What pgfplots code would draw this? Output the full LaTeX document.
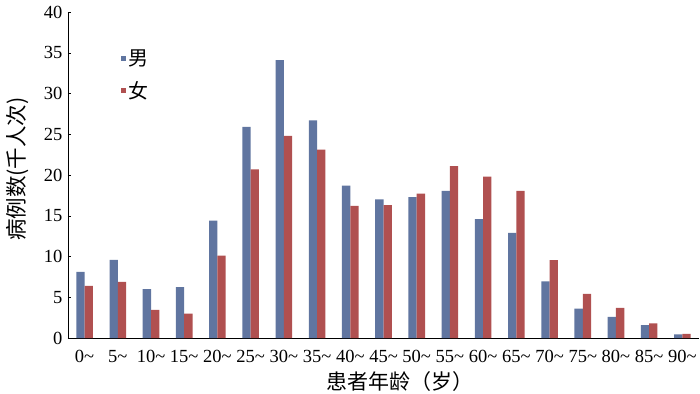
\documentclass[border=0pt]{standalone}
\usepackage{pgfplots}
\usepackage{pgfplotstable}
\pgfplotsset{compat=1.18}
\usepackage{fontspec}
\setmainfont{Liberation Serif}
\newfontfamily\cjk{Noto Sans CJK SC}
\definecolor{male}{HTML}{6075A0}
\definecolor{female}{HTML}{B05050}
\pgfplotstableread{
x male female
0 8.1 6.4
1 9.6 6.9
2 6.0 3.45
3 6.25 3.0
4 14.4 10.1
5 25.9 20.7
6 34.1 24.8
7 26.7 23.1
8 18.7 16.2
9 17.0 16.3
10 17.3 17.7
11 18.05 21.1
12 14.6 19.8
13 12.9 18.05
14 6.95 9.55
15 3.6 5.4
16 2.6 3.7
17 1.57 1.8
18 0.45 0.5
}\datatable
\begin{document}
\begin{tikzpicture}[x=1pt,y=1pt]
\begin{axis}[
  at={(0,0)}, anchor=south west,
  scale only axis, width=631pt, height=326pt,
  ymin=0, ymax=40, ytick={0,5,...,40},
  xmin=-0.5, xmax=18.5,
  xtick={0,...,18},
  xticklabels={0\textasciitilde,5\textasciitilde,10\textasciitilde,15\textasciitilde,20\textasciitilde,25\textasciitilde,30\textasciitilde,35\textasciitilde,40\textasciitilde,45\textasciitilde,50\textasciitilde,55\textasciitilde,60\textasciitilde,65\textasciitilde,70\textasciitilde,75\textasciitilde,80\textasciitilde,85\textasciitilde,90\textasciitilde},
  minor xtick={-0.5,0.5,...,18.5},
  axis x line*=bottom, axis y line*=left,
  tick align=inside,
  major tick length=3pt, minor tick length=3pt,
  xtick style={draw=none},
  minor tick style={draw=black, thin},
  ytick style={black, thin},
  axis line style={black, semithick},
  /pgf/number format/assume math mode=true,
  tick label style={font=\fontsize{18.5}{18.5}\selectfont},
  xticklabel style={yshift=-6pt},
  yticklabel style={xshift=-2pt},
  ybar=0pt, bar width=8.3pt,
  ylabel={\cjk 病例数(千人次)},
  ylabel style={font=\fontsize{21.5}{21.5}\selectfont, yshift=8pt, xshift=6pt},
  xlabel={\cjk 患者年龄（岁）},
  xlabel style={font=\fontsize{21}{21}\selectfont, xshift=16pt, yshift=-2pt},
  legend style={at={(0.084,0.89)}, anchor=north west, draw=none, fill=none,
    font=\cjk\fontsize{20}{20}\selectfont, row sep=10pt, inner sep=0pt},
  legend cell align=left,
  legend image code/.code={\fill[#1] (0pt,-2.5pt) rectangle (5pt,2.5pt);},
]
\addplot[fill=male, draw=none] table[x=x, y=male] {\datatable};
\addplot[fill=female, draw=none] table[x=x, y=female] {\datatable};
\legend{男,女}
\end{axis}
\pgfresetboundingbox
\path (-68,-55) rectangle (632,338);
\end{tikzpicture}
\end{document}
